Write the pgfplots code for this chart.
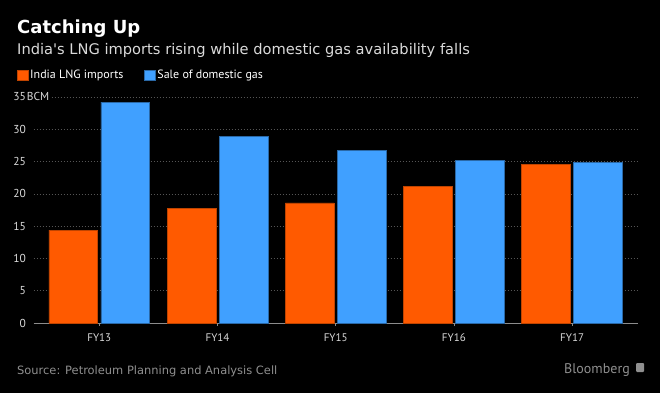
\documentclass[border=0pt]{standalone}
\usepackage{pgfplots}
\pgfplotsset{compat=1.18}
\usetikzlibrary{backgrounds}
\usepackage{fontspec}
\setmainfont{PT Sans}
\newfontfamily\dejavu{DejaVu Sans}
\definecolor{lngorange}{HTML}{FF5A00}
\definecolor{gasblue}{HTML}{40A0FF}
\definecolor{ticktext}{HTML}{D9D9D9}
\definecolor{subc}{HTML}{DADADA}
\definecolor{gridc}{HTML}{555555}
\definecolor{axisc}{HTML}{8C8C8C}
\definecolor{srcc}{HTML}{8F8F8F}
\begin{document}
\begin{tikzpicture}
\begin{axis}[
  scale only axis, width=604pt, height=226pt,
  xmin=-0.555, xmax=4.555, ymin=0, ymax=35,
  ytick={0,5,...,35},
  yticklabels={0,5,10,15,20,25,30,{35\rlap{\fboxsep=0.8pt\colorbox{black}{BCM}}}},
  xtick={0,1,2,3,4},
  xticklabels={FY13,FY14,FY15,FY16,FY17},
  axis x line*=bottom,
  axis y line*=left,
  y axis line style={draw=none},
  x axis line style={axisc, line width=0.8pt},
  ytick style={draw=none},
  xtick style={axisc, line width=0.8pt},
  tick align=outside, major tick length=3pt,
  ymajorgrids,
  grid style={gridc, line width=0.7pt, dash pattern=on 1.2pt off 1.8pt},
  yticklabel style={font=\fontsize{11.5}{13}\selectfont, text=ticktext, anchor=base east, inner sep=0, xshift=-4.5pt, yshift=-4pt},
  xticklabel style={font=\fontsize{11}{13}\selectfont, text=ticktext, anchor=north, inner sep=0, yshift=-7pt},
  legend style={at={(axis description cs:-0.0276,1.128)}, anchor=north west, draw=none, fill=none, text=white, font=\fontsize{12}{14}\selectfont, legend columns=2, inner sep=0pt, row sep=0pt},
  legend cell align=left,
  /tikz/every even column/.append style={column sep=19pt},
  /tikz/every odd column/.append style={column sep=0pt},
  legend image code/.code={\fill[#1] (0pt,-5.3pt) rectangle (10.5pt,5.3pt);},
  clip=false,
]
\addplot[ybar, fill=lngorange, draw=lngorange!75!black, line width=0.5pt, bar width=0.413, bar shift=-0.22] coordinates {(0,14.4) (1,17.7) (2,18.6) (3,21.2) (4,24.6)};
\addlegendentry{India LNG imports}
\addplot[ybar, fill=gasblue, draw=gasblue!65!black, line width=0.5pt, bar width=0.413, bar shift=0.22] coordinates {(0,34.2) (1,28.9) (2,26.7) (3,25.2) (4,24.9)};
\addlegendentry{Sale of domestic gas}
\coordinate (SW) at (rel axis cs:0,0);
\end{axis}
\begin{scope}[shift={(SW)}, x=1pt, y=1pt]
\node[anchor=base west, inner sep=0, font=\dejavu\fontsize{18}{20}\selectfont\bfseries, text=white] at (-16.7,289.5) {Catching Up};
\node[anchor=base west, inner sep=0, font=\dejavu\fontsize{14.65}{17}\selectfont, text=subc] at (-16.7,268.5) {India's LNG imports rising while domestic gas availability falls};
\node[anchor=base west, inner sep=0, font=\dejavu\fontsize{11.45}{14}\selectfont, text=srcc] at (-16.7,-51) {Source: Petroleum Planning and Analysis Cell};
\node[anchor=base east, inner sep=0, font=\fontsize{14}{16}\selectfont, text=srcc] at (596.3,-50.3) {Bloomberg};
\fill[srcc, rounded corners=1pt] (602.3,-49) rectangle (610.3,-40);
\end{scope}
\begin{scope}[on background layer]
\fill[black] ([shift={(-33.7pt,-70pt)}]SW) rectangle ([shift={(626.3pt,323pt)}]SW);
\end{scope}
\end{tikzpicture}
\end{document}
